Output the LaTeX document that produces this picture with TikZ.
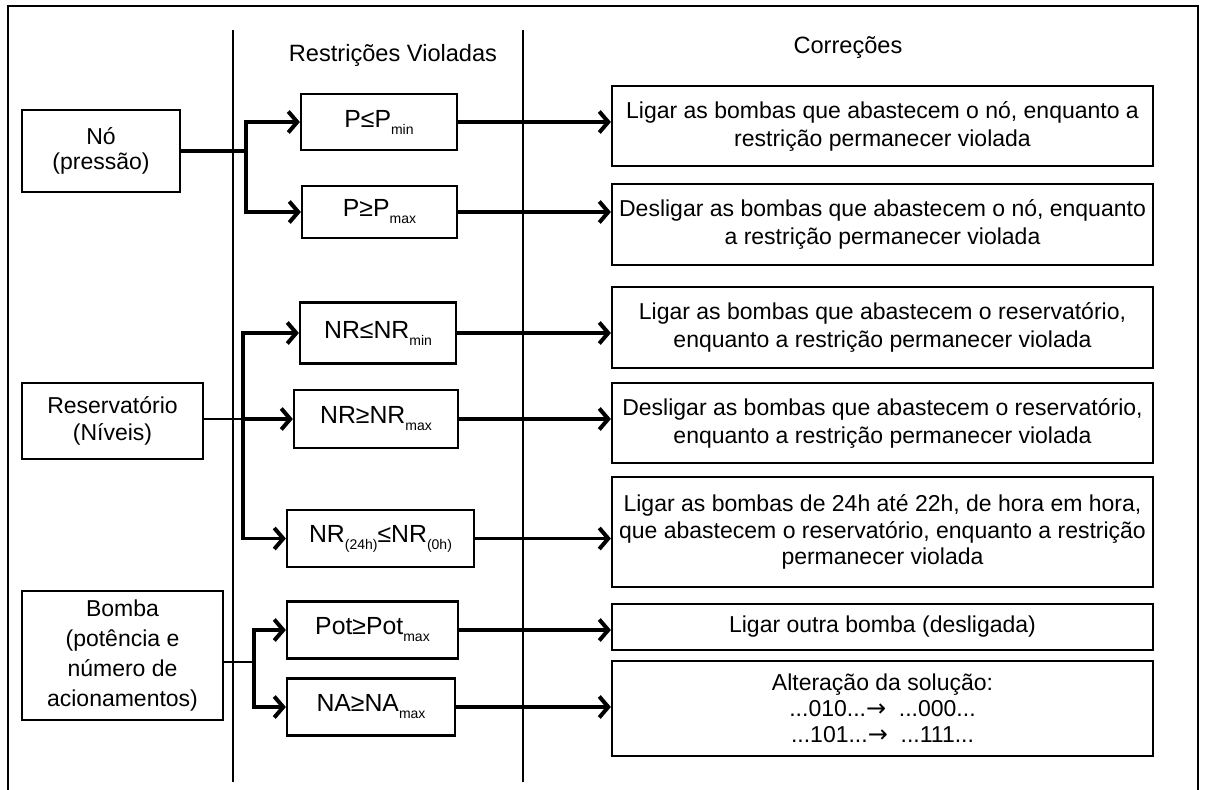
\documentclass[tikz,border=0pt]{standalone}
\usepackage{fontspec}
\setmainfont{Liberation Sans}
\newfontfamily\arrfont{DejaVu Sans}
\usetikzlibrary{arrows.meta}
\newcommand{\lo}[1]{\raisebox{-3.5pt}{\fontsize{7}{7}\selectfont #1}}
\newcommand{\rarr}{{\arrfont\fontsize{12}{12}\selectfont →}}
\begin{document}
\begin{tikzpicture}[x=0.5pt,y=-0.5pt,
  box/.style={draw,line width=1.1pt,inner sep=0pt,align=center,font=\fontsize{11.5}{14}\selectfont},
  mid/.style={box,font=\fontsize{12.4}{14}\selectfont},
  corr/.style={box,minimum width=270.5pt},
  conn/.style={line width=1.6pt},
  thinconn/.style={line width=0.7pt},
  arr/.style={conn,-{Straight Barb[length=4.5pt,width=10.5pt,line width=2pt]}},
  sep/.style={line width=0.9pt},
  head/.style={font=\fontsize{11.8}{14}\selectfont}]
\useasboundingbox (0,0) rectangle (1205,789);
\fill[white] (0,0) rectangle (1205,789);
% frame
\draw[line width=1.2pt] (8,800) -- (8,6) -- (1198,6) -- (1198,800);
% separators
\draw[sep] (233,30) -- (233,782);
\draw[sep] (523,30) -- (523,782);
% headers
\node[head] (h1) at (393,55) {Restrições Violadas};
\node[head] (h2) at (848,48) {Correções};
% left boxes
\node[box,minimum width=79pt,minimum height=41pt,font=\fontsize{11.5}{12.5}\selectfont] (no) at (101,151) {Nó\\(pressão)};
\node[box,minimum width=90.5pt,minimum height=38pt,font=\fontsize{11.5}{13.3}\selectfont] (res) at (112.5,421) {Reservatório\\(Níveis)};
\node[box,minimum width=100.5pt,minimum height=64.5pt,font=\fontsize{11.5}{15}\selectfont] (bomba) at (122.5,655.5) {Bomba\\(potência e\\número de\\acionamentos)};
% middle boxes
\node[mid,minimum width=78pt,minimum height=28pt] (pmin) at (379,122) {P≤P\lo{min}};
\node[mid,minimum width=77.5pt,minimum height=26pt] (pmax) at (379.5,212) {P≥P\lo{max}};
\node[mid,minimum width=78pt,minimum height=30.5pt] (nrmin) at (378,333) {NR≤NR\lo{min}};
\node[mid,minimum width=82pt,minimum height=29pt] (nrmax) at (376,419) {NR≥NR\lo{max}};
\node[mid,minimum width=93.5pt,minimum height=28.5pt] (nr24) at (380.5,538.5) {NR\lo{(24h)}≤NR\lo{(0h)}};
\node[mid,minimum width=85.5pt,minimum height=28.5pt] (pot) at (372.5,630) {Pot≥Pot\lo{max}};
\node[mid,minimum width=84pt,minimum height=28.5pt] (na) at (371,707) {NA≥NA\lo{max}};
% right boxes
\node[corr,minimum height=40pt] (c1) at (882.5,126) {Ligar as bombas que abastecem o nó, enquanto a\\restrição permanecer violada};
\node[corr,minimum height=40.5pt] (c2) at (882.5,224.5) {Desligar as bombas que abastecem o nó, enquanto\\a restrição permanecer violada};
\node[corr,minimum height=40.5pt] (c3) at (882.5,327.5) {Ligar as bombas que abastecem o reservatório,\\enquanto a restrição permanecer violada};
\node[corr,minimum height=40pt] (c4) at (882.5,423) {Desligar as bombas que abastecem o reservatório,\\enquanto a restrição permanecer violada};
\node[corr,minimum height=55pt,font=\fontsize{11.5}{13.3}\selectfont] (c5) at (882.5,532) {Ligar as bombas de 24h até 22h, de hora em hora,\\que abastecem o reservatório, enquanto a restrição\\permanecer violada};
\node[corr,minimum height=23pt] (c6) at (882.5,627) {Ligar outra bomba (desligada)};
\node[corr,minimum height=47.5pt,font=\fontsize{11.5}{13}\selectfont] (c7) at (882.5,708.5) {Alteração da solução:\\...010...\rarr\ \ ...000...\\...101...\rarr\ \ ...111...};
% left connectors
\coordinate (nb) at (246,151);
\draw[line width=2pt] (no.east) -- (nb);
\draw[arr] (nb) |- (pmin.west);
\draw[arr] (nb) |- (pmax.west);
\coordinate (rb) at (243,419);
\draw[thinconn] (res.east |- rb) -- (rb);
\draw[arr] (rb) |- (nrmin.west);
\draw[arr] (rb) -- (nrmax.west);
\draw[arr] (rb) |- (nr24.west);
\coordinate (bb) at (254,662);
\draw[thinconn] (bomba.east |- bb) -- (bb);
\draw[arr] (bb) |- (pot.west);
\draw[arr] (bb) |- (na.west);
% right connectors
\draw[arr] (pmin.east) -- (pmin.east -| c1.west);
\draw[arr] (pmax.east) -- (pmax.east -| c2.west);
\draw[arr] (nrmin.east) -- (nrmin.east -| c3.west);
\draw[arr] (nrmax.east) -- (nrmax.east -| c4.west);
\draw[arr] (nr24.east) -- (nr24.east -| c5.west);
\draw[arr] (pot.east) -- (pot.east -| c6.west);
\draw[arr] (na.east) -- (na.east -| c7.west);
\end{tikzpicture}
\end{document}
